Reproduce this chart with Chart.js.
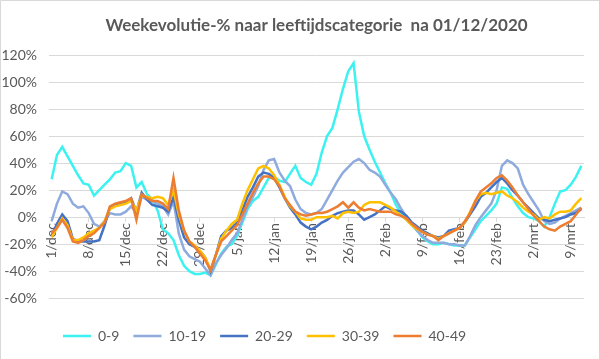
<!DOCTYPE html>
<html>
<head>
<meta charset="utf-8">
<script src="https://cdn.jsdelivr.net/npm/chart.js@4.4.0/dist/chart.umd.min.js"></script>
<style>
  html, body { margin: 0; padding: 0; background: #fff; }
</style>
</head>
<body>
<canvas id="myChart" width="599" height="359"></canvas>
<script>
// day labels 1/dec .. 11/mrt
const monthNames = ['dec', 'jan', 'feb', 'mrt'];
const monthDays = [31, 31, 28, 11];
const categories = [];
monthNames.forEach((m, k) => {
    for (let d = 1; d <= monthDays[k]; d++) categories.push(d + '/' + m);
});

const seriesNames = ['0-9', '10-19', '20-29', '30-39', '40-49'];

// weekly evolution in %
const age0_9 = [
    28, 46, 52, 45, 38, 31, 25, 24, 16, 20,
    24, 28, 33, 34, 40, 38, 22, 26, 17, 13,
    5, -9, -12, -17, -28, -36, -40, -42, -42, -41,
    -43, -35, -27, -22, -20, -14, -4, 6, 12, 15,
    22, 29, 30, 27, 26, 32, 38, 29, 26, 24,
    32, 48, 60, 66, 80, 95, 108, 114, 78, 60,
    50, 41, 33, 25, 18, 9, 3, -2, -6, -10,
    -15, -18, -20, -20, -19, -20, -21, -21, -21, -15,
    -9, -3, 1, 5, 10, 22, 21, 14, 8, 3,
    0, -1, -3, -7, 0, 10, 19, 20, 24, 30, 38
];
const age10_19 = [
    -3, 10, 19, 17, 10, 7, 8, 3, -5, -7,
    -3, 3, 2, 2, 4, 8, 3, 15, 13, 12,
    10, 8, 2, 12, -12, -24, -29, -31, -33, -38,
    -43, -34, -28, -23, -17, -12, -2, 8, 15, 23,
    35, 42, 43, 33, 27, 23, 13, 6, 3, 2,
    3, 6, 13, 20, 27, 33, 37, 41, 43, 40,
    35, 33, 30, 24, 18, 13, 6, 0, -5, -10,
    -14, -17, -19, -19, -19, -20, -20, -21, -21, -14,
    -6, 0, 5, 10, 20, 38, 42, 40, 36, 24,
    17, 11, 5, -3, -5, -4, -1, 1, 3, 5, 7
];
const age20_29 = [
    -14, -5, 2, -3, -16, -18, -18, -18, -18, -17,
    -6, 7, 9, 10, 11, 14, 4, 18, 13, 9,
    8, 7, 4, 15, -2, -15, -20, -22, -25, -30,
    -40, -28, -14, -10, -8, -4, 5, 15, 22, 30,
    33, 32, 29, 22, 14, 7, 2, -4, -7, -9,
    -7, -4, -2, 1, 3, 4, 5, 5, 2, -2,
    0, 2, 5, 8, 6, 5, 4, 1, -4, -7,
    -10, -12, -14, -15, -14, -10, -9, -8, -4, 2,
    8, 15, 18, 22, 26, 29, 25, 20, 16, 11,
    7, 3, -1, -2, -3, -2, -1, 0, 2, 3, 6
];
const age30_39 = [
    -15, -8, -1, -6, -17, -17, -15, -12, -10, -8,
    -3, 6, 8, 9, 10, 12, 5, 16, 15, 14,
    15, 14, 9, 20, 2, -10, -18, -21, -25, -30,
    -39, -28, -16, -10, -5, -2, 10, 20, 28, 36,
    38, 36, 31, 24, 15, 8, 4, -1, -2, -2,
    0, 0, 0, 1, -1, 3, 4, 3, 4, 9,
    11, 11, 11, 9, 7, 4, 1, -2, -6, -9,
    -11, -13, -14, -16, -14, -12, -10, -8, -4, 4,
    12, 17, 18, 17, 18, 19, 16, 14, 11, 7,
    4, 2, -2, 0, -1, 2, 4, 4, 5, 10, 14
];
const age40_49 = [
    -12, -8, -2, -8, -18, -19, -17, -14, -12, -8,
    -4, 8, 10, 11, 12, 14, -2, 17, 14, 12,
    12, 10, 6, 29, 5, -10, -18, -22, -27, -32,
    -39, -28, -18, -14, -10, -6, 2, 10, 18, 25,
    30, 30, 28, 23, 14, 9, 4, 2, 1, 2,
    3, 3, 4, 6, 8, 11, 7, 11, 7, 5,
    6, 5, 4, 4, 4, 2, 1, -1, -5, -8,
    -11, -13, -14, -17, -14, -12, -10, -8, -3, 3,
    12, 19, 22, 25, 29, 31, 27, 22, 16, 11,
    6, 1, -3, -7, -9, -10, -7, -5, -3, 2, 7
];

const seriesData = [age0_9, age10_19, age20_29, age30_39, age40_49];
const seriesColors = ['#3CF2F0', '#8FAADC', '#4472C4', '#FFC000', '#ED7D31'];

const textColor = '#595959';
const gridColor = '#d9d9d9';

// white background + thin frame on top/left like the original
const chartFrame = {
    id: 'chartFrame',
    beforeDraw(chart) {
        const ctx = chart.ctx;
        ctx.save();
        ctx.fillStyle = '#fff';
        ctx.fillRect(0, 0, chart.width, chart.height);
        ctx.strokeStyle = gridColor;
        ctx.lineWidth = 1;
        ctx.beginPath();
        ctx.moveTo(0.5, chart.height);
        ctx.lineTo(0.5, 0.5);
        ctx.lineTo(chart.width, 0.5);
        ctx.stroke();
        ctx.restore();
    }
};

const datasets = seriesNames.map((name, i) => ({
    label: name,
    data: seriesData[i],
    borderColor: seriesColors[i],
    backgroundColor: seriesColors[i],
    borderWidth: 2.5,
    pointRadius: 0,
    tension: 0,
    fill: false,
    order: seriesNames.length - i
}));

const myChart = new Chart(document.getElementById('myChart'), {
    type: 'line',
    data: { labels: categories, datasets: datasets },
    plugins: [chartFrame],
    options: {
        responsive: false,
        animation: false,
        layout: { padding: { left: 2, right: 15, bottom: 6 } },
        plugins: {
            title: {
                display: true,
                fullSize: false,
                text: 'Weekevolutie-% naar leeftijdscategorie  na 01/12/2020',
                color: textColor,
                font: { family: 'Lato', size: 17, weight: 'bold' },
                padding: { top: 15, bottom: 19.6 }
            },
            legend: {
                position: 'bottom',
                fullSize: false,
                align: 'start',
                title: { display: true, text: ' ', padding: 0, font: { size: 14 } },
                labels: {
                    usePointStyle: true,
                    pointStyle: 'line',
                    pointStyleWidth: 28,
                    color: textColor,
                    font: { family: 'Lato', size: 14 },
                    padding: 14,
                    sort: (a, b) => a.datasetIndex - b.datasetIndex
                }
            },
            tooltip: { enabled: false }
        },
        scales: {
            x: {
                type: 'category',
                offset: true,
                position: { y: 0 },
                border: { display: true, color: gridColor },
                grid: {
                    drawOnChartArea: false,
                    drawTicks: true,
                    tickLength: 4,
                    color: ctx => (ctx.index % 7 === 0 ? gridColor : 'rgba(0,0,0,0)')
                },
                ticks: {
                    autoSkip: false,
                    minRotation: 90,
                    maxRotation: 90,
                    padding: 2,
                    color: textColor,
                    font: { family: 'Lato', size: 14 },
                    callback: function (val, index) {
                        return index % 7 === 0 ? this.getLabelForValue(val) : '';
                    }
                },
                afterFit: scale => {
                    scale.paddingLeft = 0;
                    scale.paddingRight = 0;
                }
            },
            y: {
                min: -60,
                max: 120,
                border: { display: false },
                grid: { color: gridColor, drawTicks: false },
                ticks: {
                    stepSize: 20,
                    padding: 12,
                    color: textColor,
                    font: { family: 'Lato', size: 14 },
                    callback: v => v + '%'
                },
                afterFit: scale => {
                    scale.width = 47;
                }
            }
        }
    }
});
</script>
</body>
</html>
